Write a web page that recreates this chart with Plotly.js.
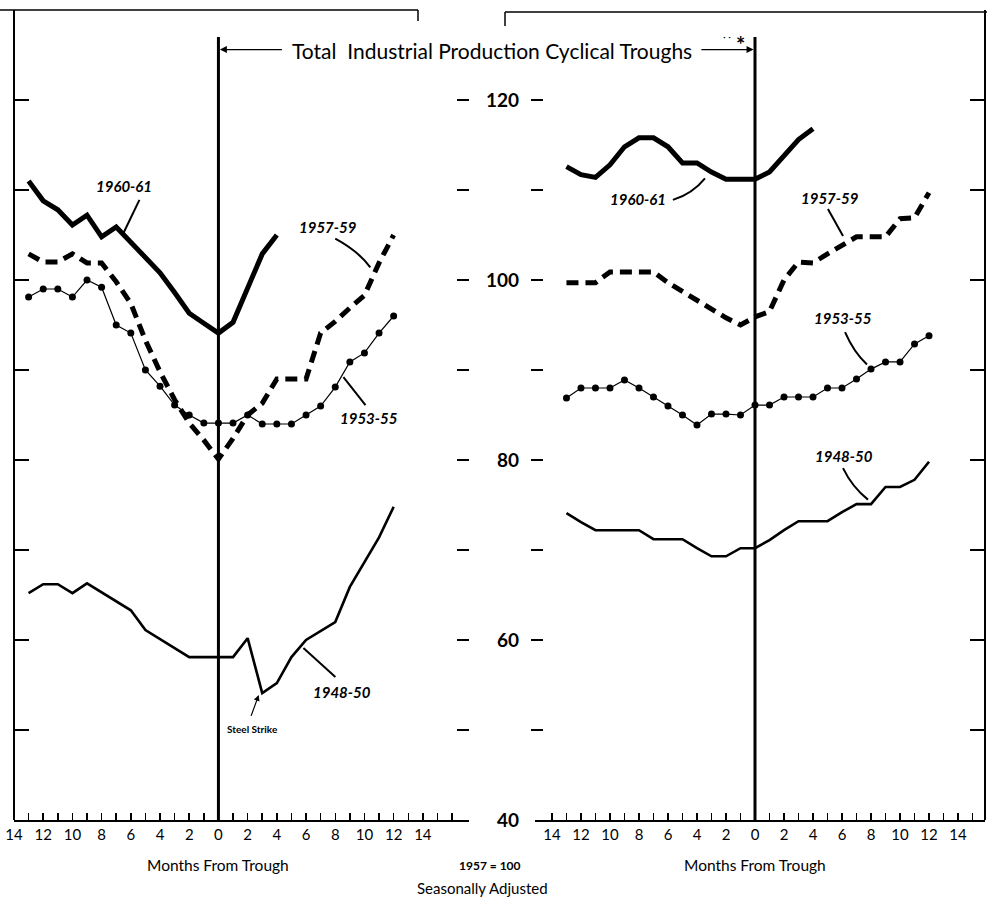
<!DOCTYPE html>
<html>
<head>
<meta charset="utf-8">
<script src="https://cdn.plot.ly/plotly-3.0.1.min.js"></script>
<style>html,body{margin:0;padding:0;background:#fff;}#chart{width:987px;height:899px;}</style>
</head>
<body>
<div id="chart"></div>
<script>
// ---- data (months from trough, index 1957 = 100) ----
const monthsLong  = [-13,-12,-11,-10,-9,-8,-7,-6,-5,-4,-3,-2,-1,0,1,2,3,4,5,6,7,8,9,10,11,12];
const monthsShort = [-13,-12,-11,-10,-9,-8,-7,-6,-5,-4,-3,-2,-1,0,1,2,3,4];

// left panel
const left1960 = [111.0,108.8,107.8,106.1,107.2,104.8,105.9,104.2,102.5,100.8,98.6,96.3,95.2,94.1,95.3,99.2,102.9,105.0];
const left1957 = [102.9,102.0,102.0,102.9,101.9,101.9,99.8,97.4,93.3,89.8,86.7,84.1,82.2,80.1,82.4,85.0,86.3,89.0,89.0,89.0,94.1,95.4,96.9,98.3,101.9,105.0];
const left1953 = [98.1,99.0,99.0,98.1,100.0,99.2,95.0,94.1,90.0,88.2,86.1,85.0,84.1,84.1,84.1,85.0,84.0,84.0,84.0,85.0,86.0,88.1,90.9,91.9,94.1,96.0];
const left1948 = [65.2,66.2,66.2,65.2,66.3,65.3,64.3,63.3,61.1,60.1,59.1,58.1,58.1,58.1,58.1,60.2,54.1,55.2,58.1,60.0,61.0,62.0,65.9,68.7,71.4,74.8];

// right panel
const right1960 = [112.6,111.7,111.4,112.8,114.8,115.8,115.8,114.8,113.0,113.0,112.0,111.2,111.2,111.2,112.0,113.7,115.6,116.8];
const right1957 = [99.7,99.7,99.7,100.9,100.9,100.9,100.9,99.7,98.7,97.7,96.7,95.8,95.0,95.9,96.5,100.0,102.0,101.9,102.9,103.8,104.8,104.8,104.8,106.8,106.9,109.7];
const right1953 = [86.9,88.0,88.0,88.0,88.9,88.0,87.0,86.0,85.0,83.9,85.1,85.1,85.0,86.1,86.1,87.0,87.0,87.0,88.0,88.0,89.0,90.1,90.9,90.9,92.9,93.8];
const right1948 = [74.1,73.1,72.2,72.2,72.2,72.2,71.2,71.2,71.2,70.2,69.3,69.3,70.2,70.2,71.1,72.2,73.2,73.2,73.2,74.2,75.1,75.1,77.0,77.0,77.8,79.8];

// axis ticks / labels
const xTickVals  = [-14,-12,-10,-8,-6,-4,-2,0,2,4,6,8,10,12,14];
const xTickText  = ['14','12','10','8','6','4','2','0','2','4','6','8','10','12','14'];
const xMinorLeft  = [-13,-12,-11,-10,-9,-8,-7,-6,-5,-4,-3,-2,-1,0,1,2,3,4,5,6,7,8,9,10,11,12,13,14,15,16];
const xMinorRight = [-14,-13,-12,-11,-10,-9,-8,-7,-6,-5,-4,-3,-2,-1,0,1,2,3,4,5,6,7,8,9,10,11,12,13,14,15];
const yTickVals  = [50,60,70,80,90,100,110,120];
const yLabelVals = [40,60,80,100,120];
const yLabelText = ['40','60','80','100','120'];

const seriesNames = ['1960-61','1957-59','1953-55','1948-50'];

// ---- page geometry ----
const W = 987, H = 899;
const px = v => v / W;
const py = v => 1 - v / H;
const FONT = 'Lato, "Open Sans", sans-serif';

const solidThick = {color:'#000', width:5};
const dashThick  = {color:'#000', width:5, dash:'12px,7px'};
const thin       = {color:'#000', width:1.2};
const medium     = {color:'#000', width:2.6};

function tr(x, y, xa, line, markers) {
  const t = {type:'scatter', x:x, y:y, xaxis:xa, yaxis:'y', mode: markers ? 'lines+markers' : 'lines',
    line:line, hoverinfo:'skip', showlegend:false};
  if (markers) t.marker = {size:7, color:'#000'};
  return t;
}
// empty carriers so the centre scale columns are drawn
function carrier(ya) {
  return {type:'scatter', x:[], y:[], xaxis:'x', yaxis:ya, mode:'lines', hoverinfo:'skip', showlegend:false};
}

const data = [
  tr(monthsShort, left1960, 'x', solidThick),
  tr(monthsLong,  left1957, 'x', dashThick),
  tr(monthsLong,  left1953, 'x', thin, true),
  tr(monthsLong,  left1948, 'x', medium),
  tr(monthsShort, right1960, 'x2', solidThick),
  tr(monthsLong,  right1957, 'x2', dashThick),
  tr(monthsLong,  right1953, 'x2', thin, true),
  tr(monthsLong,  right1948, 'x2', medium),
  carrier('y2'), carrier('y3'), carrier('y4'), carrier('y5')
];

const xCommon = {
  anchor:'y', showline:true, linewidth:2, linecolor:'#000', showgrid:false, zeroline:false,
  tickmode:'array', tickvals:xTickVals, ticktext:xTickText, ticks:'',
  tickfont:{family:FONT, size:15, color:'#000'}, fixedrange:true
};

const yBase = {range:[40,130], showgrid:false, zeroline:false, fixedrange:true, autorange:false};

const L = (w) => ({color:'#000', width:w});

const layout = {
  width:W, height:H, autosize:false,
  margin:{l:0, r:0, t:0, b:0},
  paper_bgcolor:'#fff', plot_bgcolor:'rgba(0,0,0,0)',
  showlegend:false,
  font:{family:FONT, color:'#000'},
  xaxis: Object.assign({}, xCommon, {domain:[px(14), px(469)], range:[-14, 17.16],
    minor:{tickmode:'array', tickvals:xMinorLeft, ticks:'inside', ticklen:7, tickwidth:1.5, tickcolor:'#000', showgrid:false}}),
  xaxis2: Object.assign({}, xCommon, {domain:[px(535), px(985)], range:[-15.17, 15.86],
    minor:{tickmode:'array', tickvals:xMinorRight, ticks:'inside', ticklen:7, tickwidth:1.5, tickcolor:'#000', showgrid:false}}),
  yaxis: Object.assign({}, yBase, {domain:[1 - 820/H, 1 - 10/H], anchor:'free', position:px(14), side:'left',
    showline:true, linewidth:2, linecolor:'#000', ticks:'inside', ticklen:14, tickwidth:1.5, tickcolor:'#000',
    tickmode:'array', tickvals:yTickVals, showticklabels:false}),
  yaxis2: Object.assign({}, yBase, {overlaying:'y', anchor:'free', position:px(985), side:'right',
    showline:true, linewidth:2, linecolor:'#000', ticks:'inside', ticklen:14, tickwidth:1.5, tickcolor:'#000',
    tickmode:'array', tickvals:yTickVals, showticklabels:false}),
  yaxis3: Object.assign({}, yBase, {overlaying:'y', anchor:'free', position:px(469), side:'left',
    showline:false, ticks:'outside', ticklen:12, tickwidth:2, tickcolor:'#000',
    tickmode:'array', tickvals:yTickVals, showticklabels:false}),
  yaxis4: Object.assign({}, yBase, {overlaying:'y', anchor:'free', position:px(530), side:'right',
    showline:false, ticks:'outside', ticklen:12, tickwidth:2, tickcolor:'#000',
    tickmode:'array', tickvals:yTickVals, showticklabels:false}),
  yaxis5: Object.assign({}, yBase, {overlaying:'y', anchor:'free', position:px(519), side:'left',
    showline:false, ticks:'', tickmode:'array', tickvals:yLabelVals, ticktext:yLabelText,
    tickfont:{family:FONT, size:19, color:'#000', weight:'bold'}}),
  shapes: [
    // trough lines
    {type:'line', xref:'x', yref:'y', x0:0, x1:0, y0:40, y1:127, line:L(3)},
    {type:'line', xref:'x2', yref:'y', x0:0, x1:0, y0:40, y1:127, line:L(3)},
    // frame tops
    {type:'line', xref:'paper', yref:'paper', x0:0, x1:px(418), y0:py(10), y1:py(10), line:L(1.5)},
    {type:'line', xref:'paper', yref:'paper', x0:px(418), x1:px(418), y0:py(10), y1:py(21), line:L(1.5)},
    {type:'line', xref:'paper', yref:'paper', x0:px(505), x1:1, y0:py(12), y1:py(12), line:L(1.5)},
    {type:'line', xref:'paper', yref:'paper', x0:px(505), x1:px(505), y0:py(12), y1:py(26), line:L(1.5)},
    // leader lines (left)
    {type:'line', xref:'x', yref:'y', x0:-5.41, y0:108.9, x1:-6.51, y1:105.2, line:L(2)},
    {type:'path', xref:'x', yref:'y', path:'M 8.0 104.6 Q 9.6 103.2 10.4 101.4', line:L(2)},
    {type:'line', xref:'x', yref:'y', x0:8.56, y0:89.2, x1:10.07, y1:86.1, line:L(2)},
    {type:'line', xref:'x', yref:'y', x0:5.82, y0:59.1, x1:8.01, y1:55.9, line:L(2)},
    // leader lines (right)
    {type:'path', xref:'x2', yref:'y', path:'M -5.66 108.9 Q -4.3 109.6 -3.45 111.3', line:L(2)},
    {type:'line', xref:'x2', yref:'y', x0:5.03, y0:107.9, x1:6.07, y1:104.9, line:L(2)},
    {type:'path', xref:'x2', yref:'y', path:'M 6.21 94.2 Q 6.8 92.0 7.72 90.6', line:L(2)},
    {type:'path', xref:'x2', yref:'y', path:'M 6.07 79.1 Q 6.7 77.0 7.79 75.6', line:L(2)}
  ],
  annotations: []
};

const lblFont = {family:FONT, size:15, color:'#000', style:'italic', weight:'bold'};
function lbl(text, xa, x, y) {
  return {xref:xa, yref:'y', x:x, y:y, text:text, showarrow:false, font:lblFont, xanchor:'center', yanchor:'middle'};
}
function note(text, xref, x, yPix, size, bold) {
  const f = {family:FONT, size:size, color:'#000'};
  if (bold) f.weight = 'bold';
  return {xref:xref, yref:'paper', x:x, y:py(yPix), text:text, showarrow:false, font:f, xanchor:'center', yanchor:'middle'};
}
layout.annotations.push(
  lbl(seriesNames[0], 'x', -6.44, 110.4),
  lbl(seriesNames[1], 'x', 7.53, 105.9),
  lbl(seriesNames[2], 'x', 10.34, 84.7),
  lbl(seriesNames[3], 'x', 8.49, 54.2),
  lbl(seriesNames[0], 'x2', -8.07, 109.0),
  lbl(seriesNames[1], 'x2', 5.17, 109.1),
  lbl(seriesNames[2], 'x2', 6.07, 95.8),
  lbl(seriesNames[3], 'x2', 6.14, 80.4),
  // steel strike
  {xref:'x', yref:'y', x:2.33, y:50.1, text:'Steel Strike', showarrow:false,
   font:{family:FONT, size:10, color:'#000', weight:'bold'}, xanchor:'center', yanchor:'middle'},
  {xref:'x', yref:'y', axref:'x', ayref:'y', x:2.76, y:53.9, ax:2.2, ay:51.4, text:'', showarrow:true,
   arrowhead:2, arrowsize:1, arrowwidth:1.2, arrowcolor:'#000', standoff:0, startstandoff:0},
  // title
  note('Total  Industrial Production Cyclical Troughs', 'paper', px(492), 50, 21, false),
  {xref:'x', yref:'y', axref:'x', ayref:'y', x:0.1, y:125.6, ax:4.45, ay:125.6, text:'', showarrow:true,
   arrowhead:2, arrowsize:1, arrowwidth:1.4, arrowcolor:'#000', standoff:0, startstandoff:0},
  {xref:'x2', yref:'y', axref:'x2', ayref:'y', x:-0.1, y:125.6, ax:-3.8, ay:125.6, text:'', showarrow:true,
   arrowhead:2, arrowsize:1, arrowwidth:1.4, arrowcolor:'#000', standoff:0, startstandoff:0},
  note('<b>*</b>', 'paper', px(740), 44, 22, false),
  note('· ·', 'paper', px(727), 36, 10, false),
  // axis titles and notes
  note('Months From Trough', 'x', 0, 865, 15.5, false),
  note('Months From Trough', 'x2', 0, 865, 15.5, false),
  note('1957 = 100', 'paper', px(490), 865, 12, true),
  note('Seasonally Adjusted', 'paper', px(482), 888, 15, false)
);

Plotly.newPlot('chart', data, layout, {staticPlot:true, displayModeBar:false});
</script>
</body>
</html>
